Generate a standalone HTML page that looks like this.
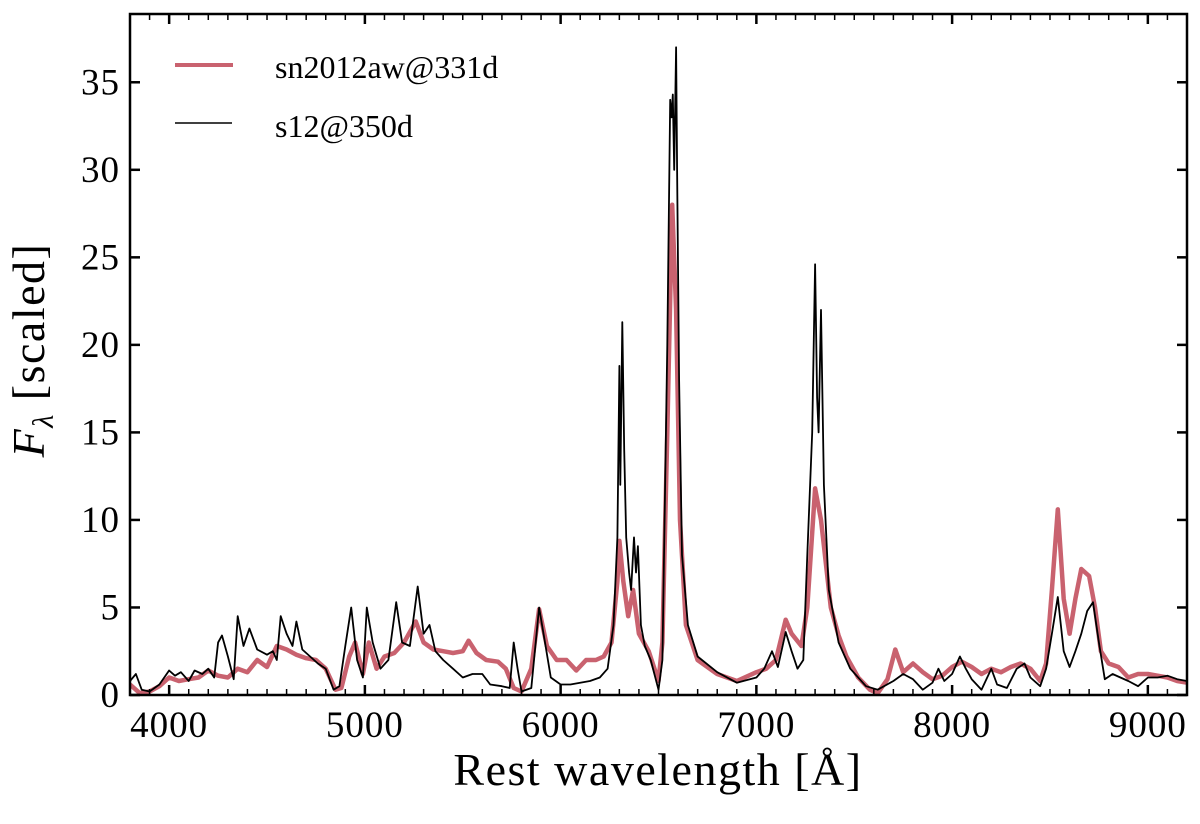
<!DOCTYPE html>
<html><head><meta charset="utf-8"><style>
html,body{margin:0;padding:0;background:#fff}
svg text{font-family:"Liberation Serif",serif;fill:#000}
</style></head><body>
<svg id="chart" width="1200" height="819" viewBox="0 0 1200 819" xmlns="http://www.w3.org/2000/svg">
<g id="plot"></g>
</svg>
<script>
const xTicks=[4000,5000,6000,7000,8000,9000];
const yTicks=[0,5,10,15,20,25,30,35];
const obsWave=[3800,3850,3900,3950,4000,4050,4100,4150,4200,4250,4300,4350,4400,4450,4500,4550,4600,4650,4700,4750,4800,4850,4880,4920,4950,4990,5020,5060,5100,5150,5200,5260,5300,5350,5400,5450,5500,5530,5570,5620,5680,5720,5760,5800,5850,5890,5930,5980,6030,6080,6130,6180,6220,6260,6290,6300,6320,6345,6370,6400,6450,6500,6520,6545,6570,6590,6610,6640,6700,6800,6900,7000,7050,7100,7150,7180,7230,7260,7300,7330,7380,7420,7460,7520,7580,7620,7670,7710,7750,7800,7850,7900,7950,8000,8050,8100,8150,8200,8250,8300,8350,8400,8450,8480,8510,8540,8570,8600,8630,8660,8700,8730,8760,8800,8850,8900,8950,9000,9050,9100,9150,9200];
const obsFlux=[0.6,0.1,0.2,0.5,1.0,0.8,0.9,1.0,1.4,1.1,1.0,1.5,1.3,2.0,1.6,2.8,2.6,2.3,2.1,2.0,1.5,0.3,0.4,2.2,3.0,1.2,3.0,1.5,2.2,2.4,3.0,4.2,3.0,2.6,2.5,2.4,2.5,3.1,2.4,2.0,1.9,1.5,0.4,0.2,1.5,4.9,2.8,2.0,2.0,1.4,2.0,2.0,2.2,3.0,6.5,8.8,6.5,4.5,6.0,3.5,2.5,0.8,3.0,15,28.0,22,10,4,2.0,1.2,0.8,1.3,1.5,2.0,4.3,3.5,2.8,5,11.8,10,5,3.4,2.2,1.0,0.3,0.1,0.9,2.6,1.3,1.8,1.3,0.9,1.1,1.6,1.9,1.6,1.2,1.5,1.3,1.6,1.8,1.5,0.8,1.8,6,10.6,5.5,3.5,5.5,7.2,6.8,5.0,2.5,1.8,1.6,1.0,1.2,1.2,1.1,1.0,0.8,0.7];
const modWave=[3800,3830,3860,3900,3950,4000,4030,4060,4100,4130,4170,4200,4230,4250,4270,4300,4330,4350,4380,4410,4450,4500,4530,4550,4570,4600,4630,4650,4680,4720,4760,4800,4840,4870,4900,4930,4960,4990,5010,5040,5080,5120,5160,5190,5230,5270,5300,5330,5360,5400,5450,5500,5550,5600,5640,5700,5740,5760,5780,5800,5850,5890,5920,5950,6000,6050,6100,6150,6200,6240,6270,6290,6300,6305,6315,6325,6335,6350,6360,6375,6385,6395,6410,6430,6460,6500,6520,6545,6560,6567,6573,6580,6590,6595,6605,6620,6650,6700,6800,6900,7000,7040,7080,7110,7150,7180,7210,7240,7260,7285,7300,7310,7318,7330,7345,7370,7420,7480,7560,7620,7700,7750,7800,7850,7900,7930,7960,8000,8040,8070,8100,8150,8200,8230,8280,8330,8370,8400,8450,8480,8510,8540,8570,8600,8630,8660,8690,8720,8750,8780,8820,8860,8900,8950,9000,9050,9100,9150,9200];
const modFlux=[0.8,1.2,0.3,0.2,0.6,1.4,1.1,1.3,0.8,1.4,1.2,1.5,1.0,3.0,3.4,2.2,0.9,4.5,2.8,3.8,2.6,2.3,2.5,2.0,4.5,3.5,2.8,4.2,2.6,2.2,1.8,1.5,0.3,0.5,2.8,5.0,2.0,1.0,5.0,3.0,1.5,2.0,5.3,3.0,2.8,6.2,3.5,4.0,2.5,2.0,1.5,1.0,1.2,1.2,0.6,0.5,0.4,3.0,1.5,0.2,0.4,5.0,3.0,1.0,0.6,0.6,0.7,0.8,1.0,1.5,4.0,9.0,18.8,12,21.3,14,9,7.0,6,9,7,8.5,4,2.8,2.0,0.3,2.0,20,34,33,34.3,30,37,30,18,8,4,2.2,1.3,0.7,1.0,1.5,2.5,1.6,3.6,2.5,1.5,2.0,8.0,15,24.6,17,15,22,12,6,3.0,1.5,0.5,0.3,0.8,1.2,0.9,0.3,0.7,1.5,0.8,1.2,2.2,1.5,0.9,0.3,1.5,0.6,0.4,1.5,1.8,1.0,0.5,1.5,3.5,5.6,2.5,1.6,2.5,3.5,4.8,5.3,3.0,0.9,1.2,1.0,0.8,0.5,1.0,1.0,1.1,0.9,0.8];

const L=130,R=1187,T=14,B=695,xMin=3800,xMax=9200,yMin=0,yMax=38.9;
const sx=v=>L+(v-xMin)/(xMax-xMin)*(R-L);
const sy=v=>B-(v-yMin)/(yMax-yMin)*(B-T);
const NS='http://www.w3.org/2000/svg';
const svg=document.getElementById('chart');
const plot=document.getElementById('plot');
function mk(tag,attrs,parent){const e=document.createElementNS(NS,tag);for(const k in attrs)e.setAttribute(k,attrs[k]);(parent||svg).appendChild(e);return e;}

const clip=mk('clipPath',{id:'clp'});mk('rect',{x:L,y:T,width:R-L,height:B-T},clip);
function pathOf(w,f){return w.map((v,i)=>(i?'L':'M')+sx(v).toFixed(1)+' '+sy(f[i]).toFixed(1)).join(' ');}
const p1=mk('path',{d:pathOf(obsWave,obsFlux),fill:'none',stroke:'#c9626f','stroke-width':4.5,'stroke-linejoin':'round','clip-path':'url(#clp)'},plot);


const p2=mk('path',{d:pathOf(modWave,modFlux),fill:'none',stroke:'#000','stroke-width':1.8,'stroke-linejoin':'round','clip-path':'url(#clp)'},plot);



const ax=mk('g',{});


for(let v=3800;v<=9200;v+=100){const x=sx(v);const major=v%1000===0;const len=major?10:6;
 mk('line',{x1:x,y1:B,x2:x,y2:B-len,stroke:'#000','stroke-width':major?2.5:1.5},ax);
 mk('line',{x1:x,y1:T,x2:x,y2:T+len,stroke:'#000','stroke-width':major?2.5:1.5},ax);}
xTicks.forEach(v=>{const t=mk('text',{x:sx(v),y:B+42,'text-anchor':'middle','font-size':37,'letter-spacing':'1'},ax);t.textContent=v;
 
 });
yTicks.forEach(v=>{const y=sy(v);
 mk('line',{x1:L,y1:y,x2:L+10,y2:y,stroke:'#000','stroke-width':2.5},ax);
 mk('line',{x1:R,y1:y,x2:R-10,y2:y,stroke:'#000','stroke-width':2.5},ax);
 const t=mk('text',{x:L-10,y:y+12,'text-anchor':'end','font-size':37,'letter-spacing':'1'},ax);t.textContent=v;
 
 });
mk('rect',{x:L,y:T,width:R-L,height:B-T,fill:'none',stroke:'#000','stroke-width':2.5},ax);

const xl=mk('text',{x:658,y:785,'text-anchor':'middle','font-size':46,'letter-spacing':'1.5'});
xl.textContent='Rest wavelength [Å]';


const yl=mk('text',{x:0,y:0,'text-anchor':'middle','font-size':46,'letter-spacing':'1.5',transform:'translate(44,350) rotate(-90)'});
yl.innerHTML='<tspan font-style="italic">F</tspan><tspan font-style="italic" font-size="30" dy="9">λ</tspan><tspan dy="-9"> [scaled]</tspan>';



const lg=mk('g',{});


const e1=mk('g',{},lg);


mk('line',{x1:175,y1:65,x2:233,y2:65,stroke:'#c9626f','stroke-width':4},e1);
const t1=mk('text',{x:275,y:78,'font-size':32},e1);t1.textContent='sn2012aw@331d';
const e2=mk('g',{},lg);


mk('line',{x1:175,y1:123,x2:232,y2:123,stroke:'#000','stroke-width':1.6},e2);
const t2=mk('text',{x:275,y:137,'font-size':32},e2);t2.textContent='s12@350d';
</script>
</body></html>
